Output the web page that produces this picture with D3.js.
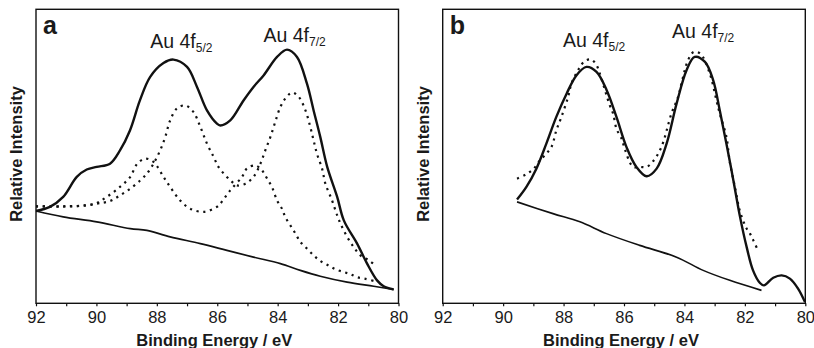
<!DOCTYPE html>
<html>
<head>
<meta charset="utf-8">
<script src="https://cdn.jsdelivr.net/npm/d3@7"></script>
<style>
  html, body { margin: 0; padding: 0; background: #fff; }
  svg { display: block; }
  text { font-family: "Liberation Sans", Arial, Helvetica, sans-serif; fill: #1a1a1a; }
</style>
</head>
<body>
<svg id="chart" width="814" height="348"></svg>
<script>
// ---------- data (binding energy in eV, relative intensity in a.u.) ----------
const xTicks = [92, 90, 88, 86, 84, 82, 80];
const xMinorTicks = [91, 89, 87, 85, 83, 81];
const xLabel = "Binding Energy / eV";
const yLabel = "Relative Intensity";
const panelLetters = ["a", "b"];

// panel a
const aEnvelopeE = [92.00, 91.54, 91.10, 90.65, 90.32, 89.99, 89.55, 89.22, 88.89, 88.56, 88.22, 87.78, 87.45, 87.00, 86.67, 86.34, 86.01, 85.90, 85.57, 85.13, 84.80, 84.46, 84.02, 83.69, 83.36, 83.03, 82.81, 82.59, 82.36, 82.03, 81.81, 81.37, 81.04, 80.71, 80.49, 80.16];
const aEnvelopeI = [31.4, 32.8, 36.2, 43.0, 45.5, 46.4, 47.5, 52.0, 58.8, 69.0, 77.0, 81.7, 82.9, 80.4, 73.6, 65.6, 61.1, 60.5, 62.2, 69.0, 73.6, 77.6, 83.8, 86.3, 83.8, 74.7, 65.6, 56.6, 46.4, 36.2, 28.2, 20.3, 13.5, 7.8, 5.8, 4.7];

const aBackgroundE = [92.00, 91.10, 89.99, 88.88, 88.33, 87.56, 86.56, 85.68, 84.80, 83.91, 83.25, 82.59, 81.70, 80.82, 80.16];
const aBackgroundI = [31.4, 29.4, 27.7, 25.4, 24.8, 22.6, 20.3, 18.0, 15.7, 13.5, 11.2, 9.2, 7.2, 5.8, 4.7];

const aMajorFitE = [92.00, 90.76, 89.99, 89.55, 89.22, 88.88, 88.55, 88.33, 88.11, 87.89, 87.72, 87.56, 87.34, 87.06, 86.79, 86.56, 86.34, 86.12, 85.96, 85.73, 85.51, 85.35, 85.07, 84.80, 84.57, 84.41, 84.24, 84.08, 83.91, 83.75, 83.52, 83.30, 83.08, 82.92, 82.81, 82.70, 82.53, 82.42, 82.20, 82.03, 81.92, 81.70, 81.48, 81.26, 80.98, 80.76];
const aMajorFitI = [33.0, 33.0, 33.9, 34.8, 36.7, 39.0, 41.8, 44.1, 47.5, 52.0, 56.6, 62.2, 66.2, 67.3, 65.1, 60.0, 54.3, 49.8, 46.4, 43.5, 41.3, 40.1, 40.7, 43.0, 47.5, 52.0, 56.6, 61.7, 66.8, 69.6, 71.7, 70.2, 65.6, 60.0, 55.4, 50.9, 45.8, 40.7, 35.0, 29.9, 27.1, 22.6, 19.1, 16.3, 14.6, 12.9];

const aMinorFitE = [92.00, 91.10, 90.10, 89.66, 89.22, 88.88, 88.66, 88.39, 88.11, 87.78, 87.56, 87.23, 86.90, 86.45, 86.01, 85.90, 85.57, 85.18, 85.02, 84.74, 84.52, 84.35, 84.19, 84.02, 83.86, 83.75, 83.58, 83.41, 83.25, 83.03, 82.81, 82.59, 82.31, 82.09, 81.81, 81.59, 81.37, 81.09, 80.82];
const aMinorFitI = [33.0, 33.0, 33.7, 36.2, 39.6, 43.0, 47.3, 49.2, 48.1, 43.0, 39.6, 35.0, 32.2, 31.1, 32.8, 33.9, 38.4, 43.0, 45.8, 46.9, 45.2, 42.4, 39.6, 35.0, 32.2, 29.4, 26.5, 23.7, 20.9, 18.6, 16.3, 14.4, 12.8, 11.6, 10.6, 9.9, 8.9, 8.3, 7.6];

// panel b
const bEnvelopeE = [89.54, 89.23, 88.90, 88.57, 88.24, 87.90, 87.57, 87.24, 86.91, 86.57, 86.25, 85.92, 85.59, 85.25, 84.92, 84.59, 84.26, 83.93, 83.66, 83.32, 83.05, 82.83, 82.61, 82.38, 82.16, 81.94, 81.73, 81.50, 81.37, 81.06, 80.78, 80.51, 80.24, 80.01];
const bEnvelopeI = [35.3, 39.6, 45.8, 54.3, 63.4, 71.3, 77.6, 80.4, 78.7, 72.4, 63.4, 53.2, 46.4, 43.2, 45.8, 54.3, 67.9, 79.3, 83.8, 82.1, 75.9, 65.6, 54.3, 41.8, 29.4, 19.1, 11.2, 6.9, 6.1, 8.7, 9.5, 8.4, 5.0, 0.4];

const bBackgroundE = [89.54, 88.35, 87.46, 86.58, 85.48, 84.26, 83.38, 82.50, 81.45];
const bBackgroundI = [34.5, 30.5, 27.7, 23.7, 19.7, 15.7, 11.2, 7.8, 4.4];

const bFitE = [89.54, 89.25, 88.99, 88.82, 88.59, 88.40, 88.24, 88.07, 87.85, 87.74, 87.49, 87.30, 87.08, 86.91, 86.80, 86.47, 86.36, 86.25, 86.08, 86.03, 85.70, 85.48, 85.25, 85.03, 84.76, 84.43, 84.21, 84.10, 83.88, 83.69, 83.47, 83.16, 82.94, 82.83, 82.61, 82.50, 82.33, 82.17, 81.97, 81.83, 81.72, 81.58];
const bFitI = [42.4, 43.8, 45.8, 48.1, 50.7, 53.2, 58.8, 63.4, 70.2, 74.7, 79.8, 82.4, 82.9, 81.0, 78.1, 67.3, 64.5, 59.4, 56.0, 54.3, 46.4, 46.4, 46.4, 48.4, 53.2, 64.5, 70.2, 74.7, 82.7, 85.5, 84.9, 78.1, 69.0, 64.5, 56.6, 48.1, 39.6, 31.6, 26.0, 23.7, 21.4, 18.3];

// peak annotations: energy where each label starts, intensity of its baseline
const aLabelE = [88.22, 84.47];
const aLabelI = [86.9, 89.0];
const bLabelE = [88.02, 84.41];
const bLabelI = [87.3, 90.1];
const labelMain = ["Au 4f", "Au 4f"];
const labelSub = ["5/2", "7/2"];

// ---------- drawing ----------
const zip = (E, I) => E.map((e, i) => ({ e: e, v: I[i] }));

const panels = [
  { letter: panelLetters[0], left: 36, right: 398.5,
    solid: [zip(aEnvelopeE, aEnvelopeI)],
    thin: [zip(aBackgroundE, aBackgroundI)],
    dotted: [zip(aMajorFitE, aMajorFitI), zip(aMinorFitE, aMinorFitI)],
    labels: labelMain.map((t, i) => ({ e: aLabelE[i], v: aLabelI[i], t: t, s: labelSub[i] })) },
  { letter: panelLetters[1], left: 442.7, right: 805.3,
    solid: [zip(bEnvelopeE, bEnvelopeI)],
    thin: [zip(bBackgroundE, bBackgroundI)],
    dotted: [zip(bFitE, bFitI)],
    labels: labelMain.map((t, i) => ({ e: bLabelE[i], v: bLabelI[i], t: t, s: labelSub[i] })) }
];

const svg = d3.select("#chart");
const plotTop = 9.3, plotBottom = 303.3;

panels.forEach(p => {
  const x = d3.scaleLinear().domain([92, 80]).range([p.left, p.right]);
  const y = d3.scaleLinear().domain([0, 100]).range([plotBottom, plotBottom - 294]);
  const g = svg.append("g");

  const line = d3.line().x(d => x(d.e)).y(d => y(d.v)).curve(d3.curveCatmullRom.alpha(0.5));

  // frame
  g.append("rect")
    .attr("x", p.left).attr("y", plotTop)
    .attr("width", p.right - p.left).attr("height", plotBottom - plotTop)
    .attr("fill", "none").attr("stroke", "#111").attr("stroke-width", 1.4);

  // axis
  const axis = d3.axisBottom(x).tickValues(xTicks).tickSize(3).tickPadding(5).tickFormat(d3.format("d"));
  const ax = g.append("g").attr("transform", `translate(0,${plotBottom})`).call(axis);
  ax.select(".domain").remove();
  ax.selectAll(".tick line").attr("stroke", "#111").attr("stroke-width", 1.2);
  ax.selectAll(".tick text").style("font-size", "16.5px").style("font-family", "Liberation Sans, Arial, sans-serif").attr("fill", "#222");
  const axm = g.append("g").attr("transform", `translate(0,${plotBottom})`)
    .call(d3.axisBottom(x).tickValues(xMinorTicks).tickSize(3).tickFormat(""));
  axm.select(".domain").remove();
  axm.selectAll(".tick line").attr("stroke", "#111").attr("stroke-width", 1.2);

  // curves
  p.thin.forEach(d => g.append("path").attr("d", line(d)).attr("fill", "none").attr("stroke", "#111").attr("stroke-width", 1.6));
  p.dotted.forEach(d => g.append("path").attr("d", line(d)).attr("fill", "none").attr("stroke", "#111")
    .attr("stroke-width", 2.2).attr("stroke-dasharray", "2.2,4.6"));
  p.solid.forEach(d => g.append("path").attr("d", line(d)).attr("fill", "none").attr("stroke", "#111").attr("stroke-width", 2.4));

  // labels
  g.append("text").attr("x", p.left + 7).attr("y", 34).style("font-size", "25px").style("font-weight", "bold").text(p.letter);

  p.labels.forEach(l => {
    const t = g.append("text").attr("x", x(l.e)).attr("y", y(l.v)).style("font-size", "19.5px");
    t.append("tspan").text(l.t);
    t.append("tspan").attr("dy", 4).style("font-size", "12px").text(l.s);
  });

  g.append("text").attr("x", (p.left + p.right) / 2 - 3).attr("y", 346)
    .attr("text-anchor", "middle").style("font-size", "16.5px").style("font-weight", "bold").text(xLabel);

  g.append("text").attr("transform", `translate(${p.left - 14},${154}) rotate(-90)`)
    .attr("text-anchor", "middle").style("font-size", "16.5px").style("font-weight", "bold").text(yLabel);
});
</script>
</body>
</html>
